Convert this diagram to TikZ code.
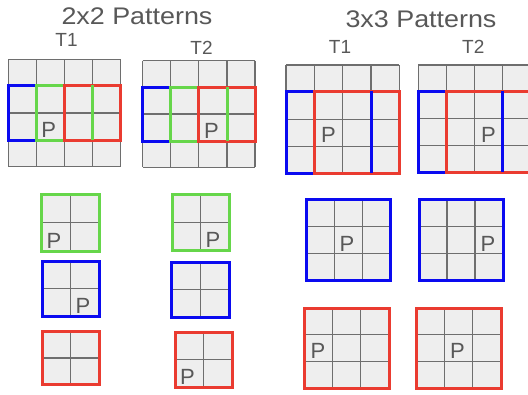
\documentclass[tikz,border=0pt]{standalone}
\usepackage{fontspec}
\setmainfont{Liberation Sans}
\newfontfamily\titlefont[FakeStretch=1.12]{Liberation Sans}
\definecolor{cellfill}{HTML}{EEEEEE}
\definecolor{gridgray}{HTML}{6E6E6E}
\definecolor{txtgray}{HTML}{585858}
\definecolor{pblue}{HTML}{0A0AF0}
\definecolor{pgreen}{HTML}{66D64A}
\definecolor{pred}{HTML}{EA3B30}
\tikzset{
  gridline/.style={draw=gridgray, line width=1.2pt},
  pat/.style={line width=3pt},
  bluepat/.style={pat, draw=pblue},
  greenpat/.style={pat, draw=pgreen},
  redpat/.style={pat, draw=pred},
  titletext/.style={text=txtgray, font=\titlefont\fontsize{24}{26}\selectfont, anchor=base, inner sep=0pt},
  ttext/.style={text=txtgray, font=\fontsize{19}{21}\selectfont, anchor=base, inner sep=0pt},
  plabel/.style={text=txtgray, font=\fontsize{22}{24}\selectfont, anchor=base, inner sep=0pt},
}
% x0 y0 x1 y1 ncols nrows
\newcommand\mygrid[6]{%
  \fill[cellfill] (#1,#2) rectangle (#3,#4);
  \foreach \i in {0,...,#5} {\draw[gridline] ({#1+(#3-#1)*\i/#5},#2) -- ({#1+(#3-#1)*\i/#5},#4);}
  \foreach \j in {0,...,#6} {\draw[gridline] (#1,{#2+(#4-#2)*\j/#6}) -- (#3,{#2+(#4-#2)*\j/#6});}
}
\begin{document}
\begin{tikzpicture}[x=1pt,y=-1pt]
\useasboundingbox (0,0) rectangle (528,394);
\clip (0,0) rectangle (528,394);
\fill[white] (0,0) rectangle (528,394);

% titles
\node[titletext] (title2) at (137,24.3) {2x2 Patterns};
\node[titletext] (title3) at (421,27) {3x3 Patterns};
\node[ttext] (t1a) at (66.5,46.7) {T1};
\node[ttext] (t2a) at (201.5,54.5) {T2};
\node[ttext] (t1b) at (340,53.3) {T1};
\node[ttext] (t2b) at (473.3,53.7) {T2};

% ---- 2x2 T1 big grid
\mygrid{8.3}{59.3}{120.7}{166.7}{4}{4}
\draw[bluepat] (8.3,85) rectangle (64.5,140);
\draw[greenpat] (36.4,85) rectangle (92.6,140);
\draw[redpat] (64.5,85) rectangle (120.7,140);
\draw[greenpat] (92.6,85) -- (92.6,140);
\node[plabel] (pa) at (48.6,137) {P};

% ---- 2x2 T2 big grid
\mygrid{142.7}{60.7}{255}{167.3}{4}{4}
\draw[bluepat] (142.7,87.3) rectangle (198.9,141.3);
\draw[greenpat] (170.8,87.3) rectangle (227,141.3);
\draw[redpat] (198.9,87.3) rectangle (255,141.3);
\draw[greenpat] (227,87.3) -- (227,141.3);
\node[plabel] (pb) at (211.5,138.3) {P};

% ---- 3x3 T1 big grid
\mygrid{286}{65}{399.3}{173.3}{4}{4}
\draw[bluepat] (286,91) rectangle (371,173.3);
\draw[redpat] (314.3,91) rectangle (399.3,173.3);
\draw[bluepat] (371,91) -- (371,173.3);
\node[plabel] (pc) at (328.5,142.5) {P};

% ---- 3x3 T2 big grid
\mygrid{418.3}{65}{531}{172.3}{4}{4}
\draw[bluepat] (418.3,91) rectangle (502.8,172.3);
\draw[redpat] (446.5,91) rectangle (531,172.3);
\draw[bluepat] (502.8,91) -- (502.8,172.3);
\node[plabel] (pd) at (488.5,142.3) {P};

% ---- small 2x2 patterns
\mygrid{41.5}{194}{99}{251}{2}{2}
\draw[greenpat] (41.5,194) rectangle (99,251);
\node[plabel] (pg1) at (54,248) {P};

\mygrid{42}{261}{99}{316.5}{2}{2}
\draw[bluepat] (42,261) rectangle (99,316.5);
\node[plabel] (pb1) at (83,313.5) {P};

\mygrid{42}{331.5}{99}{384.5}{2}{2}
\draw[redpat] (42,331.5) rectangle (99,384.5);

\mygrid{172}{194}{229}{250.5}{2}{2}
\draw[greenpat] (172,194) rectangle (229,250.5);
\node[plabel] (pg2) at (213,247.5) {P};

\mygrid{171.5}{262}{229}{317}{2}{2}
\draw[bluepat] (171.5,262) rectangle (229,317);

\mygrid{175}{332}{232}{387}{2}{2}
\draw[redpat] (175,332) rectangle (232,387);
\node[plabel] (pr2) at (187.5,384) {P};

% ---- small 3x3 patterns
\mygrid{306}{199.5}{390.5}{280.5}{3}{3}
\draw[bluepat] (306,199.5) rectangle (390.5,280.5);
\node[plabel] (pb3a) at (347,251) {P};

\mygrid{419}{199.5}{503}{280.5}{3}{3}
\draw[bluepat] (419,199.5) rectangle (503,280.5);
\node[plabel] (pb3b) at (488,251) {P};

\mygrid{304}{308}{389}{388.5}{3}{3}
\draw[redpat] (304,308) rectangle (389,388.5);
\node[plabel] (pr3a) at (318,358) {P};

\mygrid{416.5}{308}{501}{388.5}{3}{3}
\draw[redpat] (416.5,308) rectangle (501,388.5);
\node[plabel] (pr3b) at (457.5,358) {P};
\end{tikzpicture}
\end{document}
